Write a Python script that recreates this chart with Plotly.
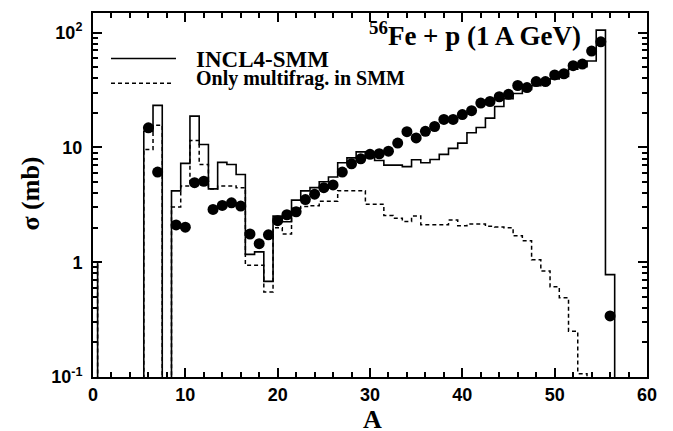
import plotly.graph_objects as go

# ---------------- data ----------------
# bin centres (mass number A), bins are [A-0.5, A+0.5]
A_bins = list(range(0, 57))

# INCL4-SMM (solid histogram), mb ; 0 = empty bin
sigma_incl_smm = [
    1.0, 0, 0, 0, 0, 0, 13.8, 23.2, 0, 4.18,
    7.25, 18.7, 10.6, 4.35, 7.4, 7.1, 5.8, 1.17, 1.23, 0.68,
    2.52, 2.25, 3.47, 4.18, 4.46, 5.02, 5.52, 7.34, 8.11, 9.14,
    8.2, 7.69, 7.0, 7.0, 6.8, 7.8, 7.35, 7.85, 8.7, 9.8,
    10.9, 13.4, 14.9, 18.0, 22.7, 26.5, 29.5, 32.0, 34.5, 36.0,
    39.5, 41.5, 48.0, 50.4, 56.5, 105.0, 0.78,
]

# Only multifragmentation in SMM (dashed histogram), mb
sigma_multifrag = [
    1.0, 0, 0, 0, 0, 0, 9.6, 15.6, 0, 3.03,
    4.6, 11.5, 7.1, 4.35, 4.6, 4.6, 4.45, 0.94, 0.94, 0.55,
    2.0, 1.76, 2.95, 3.05, 3.1, 3.4, 3.4, 4.2, 4.2, 4.2,
    3.2, 3.2, 2.55, 2.42, 2.26, 2.52, 2.12, 2.12, 2.12, 2.33,
    2.08, 2.15, 2.15, 2.06, 2.03, 2.0, 1.7, 1.54, 1.05, 0.84,
    0.61, 0.49, 0.25, 0.107, 0, 0, 0,
]

# experimental points
A_data = list(range(6, 8)) + list(range(9, 57))
sigma_data = [
    14.8, 6.1,
    2.11, 2.02, 4.93, 5.07, 2.88, 3.12, 3.29, 3.08, 1.76, 1.45,
    1.73, 2.30, 2.59, 2.75, 3.51, 3.91, 4.46, 4.71, 6.1, 7.2,
    7.95, 8.7, 8.8, 9.27, 10.9, 13.7, 12.1, 13.8, 15.2, 17.5,
    17.5, 19.3, 20.9, 24.3, 25.1, 27.6, 29.0, 34.6, 33.2, 37.4,
    37.4, 42.8, 43.8, 51.5, 53.2, 69.0, 83.0, 0.34,
]

x_ticks = [0, 10, 20, 30, 40, 50, 60]
y_tickvals = [0.1, 1, 10, 100]
y_ticktext = ["10<sup>-1</sup>", "1", "10", "10<sup>2</sup>"]

legend_labels = ["INCL4-SMM", "Only multifrag. in SMM"]
title_text = "<sup>56</sup>Fe + p (1 A GeV)"

# ---------------- figure ----------------
FLOOR = 1e-3  # empty bins drawn below the axis (clipped)


def step_xy(vals):
    xs = A_bins + [A_bins[-1] + 1]
    ys = [v if v > 0 else FLOOR for v in vals] + [FLOOR]
    return xs, ys


fig = go.Figure()

xs, ys = step_xy(sigma_incl_smm)
fig.add_trace(go.Scatter(x=xs, y=ys, mode="lines", line_shape="hvh",
                         line=dict(color="black", width=1.6),
                         name=legend_labels[0], showlegend=False))

xs, ys = step_xy(sigma_multifrag)
fig.add_trace(go.Scatter(x=xs, y=ys, mode="lines", line_shape="hvh",
                         line=dict(color="black", width=1.5, dash="4px,3px"),
                         name=legend_labels[1], showlegend=False))

fig.add_trace(go.Scatter(x=A_data, y=sigma_data, mode="markers",
                         marker=dict(color="black", size=11),
                         showlegend=False))

SANS = "Liberation Sans, Arial, sans-serif"
SERIF = "Liberation Serif, Times New Roman, serif"

minor_y = []
for dec in [0.1, 1, 10]:
    minor_y += [dec * k for k in range(2, 10)]

fig.update_layout(
    width=673, height=431,
    margin=dict(l=93, r=26, t=11, b=54),
    paper_bgcolor="white", plot_bgcolor="white",
    showlegend=False,
    xaxis=dict(
        range=[0, 60], tickmode="array", tickvals=x_ticks,
        ticks="inside", ticklen=9, tickwidth=1.5, tickcolor="black",
        minor=dict(ticks="inside", ticklen=5, tickwidth=1.5, dtick=2,
                   tickcolor="black", showgrid=False),
        showline=True, linewidth=2, linecolor="black", mirror="ticks",
        showgrid=False, zeroline=False,
        tickfont=dict(family=SANS, size=18, color="black", weight="bold"),
    ),
    yaxis=dict(
        type="log", range=[-1, 2.1705],
        tickmode="array", tickvals=y_tickvals, ticktext=y_ticktext,
        ticks="inside", ticklen=9, tickwidth=1.5, tickcolor="black",
        minor=dict(ticks="inside", ticklen=5, tickwidth=1.5,
                   tickmode="array", tickvals=minor_y,
                   tickcolor="black", showgrid=False),
        showline=True, linewidth=2, linecolor="black", mirror="ticks",
        showgrid=False, zeroline=False,
        tickfont=dict(family=SANS, size=18, color="black", weight="bold"),
        ticklabelstandoff=5,
    ),
)

# legend drawn by hand
fig.add_shape(type="line", xref="paper", yref="paper",
              x0=0.0325, x1=0.1498, y0=0.8751, y1=0.8751,
              line=dict(color="black", width=1.6))
fig.add_shape(type="line", xref="paper", yref="paper",
              x0=0.0325, x1=0.146, y0=0.8068, y1=0.8068,
              line=dict(color="black", width=1.5, dash="4px,3px"))
fig.add_annotation(xref="paper", yref="paper", x=0.184, y=0.872,
                   xanchor="left", yanchor="middle", showarrow=False,
                   borderpad=0,
                   text="<b>%s</b>" % legend_labels[0],
                   font=dict(family=SERIF, size=23, color="black"))
fig.add_annotation(xref="paper", yref="paper", x=0.184, y=0.819,
                   xanchor="left", yanchor="middle", showarrow=False,
                   borderpad=0,
                   text="<b>%s</b>" % legend_labels[1],
                   font=dict(family=SERIF, size=20, color="black"))
# reaction label
fig.add_annotation(xref="paper", yref="paper", x=0.884, y=0.942,
                   xanchor="right", yanchor="middle", showarrow=False,
                   text="<b>%s</b>" % title_text,
                   font=dict(family=SERIF, size=27, color="black"))
# axis titles
fig.add_annotation(xref="paper", yref="paper", x=0.504, y=-0.116,
                   xanchor="center", yanchor="middle", showarrow=False,
                   borderpad=0,
                   text="<b>A</b>",
                   font=dict(family=SERIF, size=26, color="black"))
fig.add_annotation(xref="paper", yref="paper", x=-0.113, y=0.505,
                   xanchor="center", yanchor="middle", showarrow=False,
                   textangle=-90, text="<b>σ (mb)</b>",
                   font=dict(family=SERIF, size=26, color="black"))

fig.write_html(
    "out.html",
    config={"displayModeBar": False},
    post_script="document.body.style.margin='0';"
                "document.body.style.overflow='hidden';",
)
